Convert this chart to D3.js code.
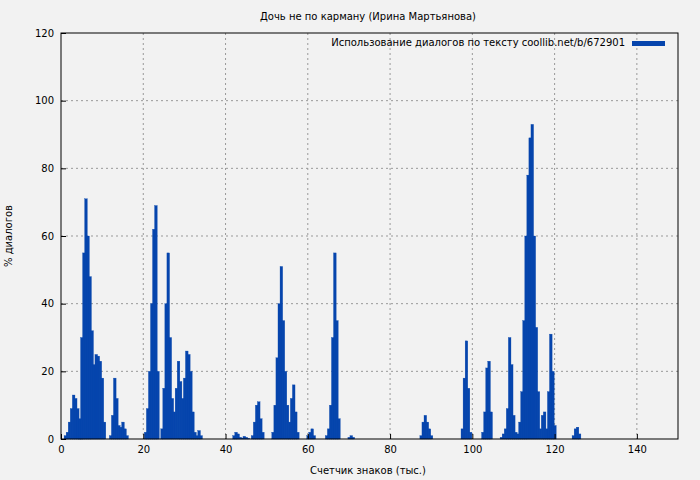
<!DOCTYPE html>
<html><head><meta charset="utf-8">
<script src="https://cdn.jsdelivr.net/npm/d3@7"></script>
<style>body{margin:0;background:#f2f2f2}svg{font-family:"DejaVu Sans",sans-serif}</style>
</head><body><svg id="c" width="700" height="480"></svg>
<script>
const title = "Дочь не по карману (Ирина Мартьянова)";
const legendLabel = "Использование диалогов по тексту coollib.net/b/672901";
const xLabel = "Счетчик знаков (тыс.)";
const yLabel = "% диалогов";
const xTicks = [0,20,40,60,80,100,120,140];
const yTicks = [0,20,40,60,80,100,120];
const step = 0.5;
// segments: start position (thousand chars) and values at 0.5 steps
const segStarts = [1.0, 4.5, 12.0, 20.5, 24.5, 42.0, 46.5, 51.5, 60.0, 64.5, 70.0, 87.5, 97.5, 102.5, 107.0, 124.5];
const segValues = [
  [1,2,5,9,13,12,9,5,2],
  [6,30,55,71,60,48,32,22,25,24.5,23,18,5],
  [1,7,18,12,4,3.5,5,3,1],
  [2,9,20,40,62,69,20],
  [3,15,40,55,30,12,8,15,23,17,12,18,26,25,20,8,2,1,2.5,1],
  [1,2,1.5,0.5,0.3,0.8,0.5,0.2],
  [1,5,10,11,6,2],
  [2,10,24,40,51,35,20,10,5,12,16,8,2],
  [1,2,3,1],
  [1,3,10,30,55,35,6],
  [0.5,1,0.5],
  [1,5,7,5,3,1],
  [3,18,29,15,2],
  [2,8,21,23,8],
  [0.5,1.5,3,9,30,22,7,2,1.5,5,14,35,60,78,89,93,60,33,14,3,7,8,3,14,31,20,4],
  [1,3,3.5,1.5]
];
const data = [];
segStarts.forEach((s,i)=>segValues[i].forEach((v,j)=>data.push({x:s+j*step,y:v})));

const svg = d3.select("#c");
const m = {l:61,r:678,t:33,b:439};
const x = d3.scaleLinear().domain([0,150]).range([m.l,m.r]);
const y = d3.scaleLinear().domain([0,120]).range([m.b,m.t]);

const g = svg.append("g");
g.selectAll(".gx").data(xTicks.filter(d=>d>0)).join("line")
 .attr("x1",d=>x(d)).attr("x2",d=>x(d)).attr("y1",m.t).attr("y2",m.b)
 .attr("stroke","#999").attr("stroke-dasharray","2,3");
g.selectAll(".gy").data(yTicks.filter(d=>d>0&&d<120)).join("line")
 .attr("y1",d=>y(d)).attr("y2",d=>y(d)).attr("x1",m.l).attr("x2",m.r)
 .attr("stroke","#999").attr("stroke-dasharray","2,3");

const bw = x(step)-x(0);
g.selectAll("rect.b").data(data).join("rect")
 .attr("x",d=>x(d.x)-bw/2).attr("width",bw+0.6)
 .attr("y",d=>y(d.y)).attr("height",d=>y(0)-y(d.y))
 .attr("fill","#0645ad").attr("stroke","#0645ad").attr("stroke-width",0.3);

svg.append("rect").attr("x",m.l).attr("y",m.t).attr("width",m.r-m.l).attr("height",m.b-m.t)
 .attr("fill","none").attr("stroke","#000");

const xa = svg.append("g").attr("transform",`translate(0,${m.b})`)
 .call(d3.axisBottom(x).tickValues(xTicks).tickSize(-5).tickPadding(7));
const ya = svg.append("g").attr("transform",`translate(${m.l},0)`)
 .call(d3.axisLeft(y).tickValues(yTicks).tickSize(-5).tickPadding(7));
[xa,ya].forEach(a=>{a.select(".domain").remove();a.selectAll("text").attr("font-size",10).attr("font-family","DejaVu Sans").attr("fill","#000");});

svg.append("text").attr("x",368).attr("y",20).attr("text-anchor","middle").attr("font-size",10).text(title);
svg.append("text").attr("x",368).attr("y",474).attr("text-anchor","middle").attr("font-size",10).text(xLabel);
svg.append("text").attr("transform","translate(12,236) rotate(-90)").attr("text-anchor","middle").attr("font-size",10).text(yLabel);
svg.append("text").attr("x",625).attr("y",46).attr("text-anchor","end").attr("font-size",10).text(legendLabel);
svg.append("rect").attr("x",632).attr("y",41).attr("width",33).attr("height",5).attr("fill","#0645ad");
</script></body></html>
